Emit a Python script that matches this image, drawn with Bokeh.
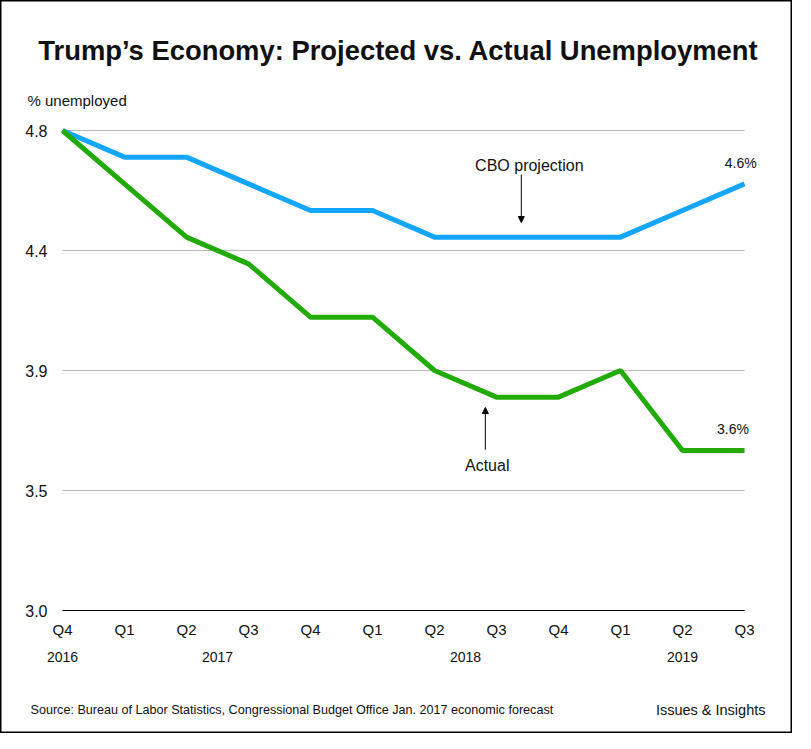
from bokeh.plotting import figure
from bokeh.models import (ColumnDataSource, FixedTicker, LinearAxis, Label, Arrow,
                          NormalHead, Range1d)
from bokeh.embed import file_html
from bokeh.resources import INLINE

# ---- data ----
quarters = ["Q4", "Q1", "Q2", "Q3", "Q4", "Q1", "Q2", "Q3", "Q4", "Q1", "Q2", "Q3"]
quarter_idx = list(range(len(quarters)))
cbo_projection = [4.8, 4.7, 4.7, 4.6, 4.5, 4.5, 4.4, 4.4, 4.4, 4.4, 4.5, 4.6]
actual = [4.8, 4.6, 4.4, 4.3, 4.1, 4.1, 3.9, 3.8, 3.8, 3.9, 3.6, 3.6]
years = ["2016", "2017", "2018", "2019"]
year_pos = [0, 2.5, 6.5, 10]
y_ticks = [3.0, 3.45, 3.9, 4.35, 4.8]
y_tick_labels = ["3.0", "3.5", "3.9", "4.4", "4.8"]

TITLE = "Trump\u2019s Economy: Projected vs. Actual Unemployment"
Y_LABEL = "% unemployed"
SOURCE = "Source: Bureau of Labor Statistics, Congressional Budget Office Jan. 2017 economic forecast"
CREDIT = "Issues & Insights"

FONT = "Liberation Sans"
BLUE = "#14a5fc"
GREEN = "#22ab08"
TXT = "#111111"

# ---- geometry (pixels inside the figure) ----
FIG_W, FIG_H = 792, 733
X0_PX, DX = 62.0, 62.0          # pixel of first quarter, pixels per quarter
Y_TOP_PX, Y_BOT_PX = 130.0, 610.0  # pixel rows of top / bottom tick
y_lo, y_hi = y_ticks[0], y_ticks[-1]
ppu_y = (Y_BOT_PX - Y_TOP_PX) / (y_hi - y_lo)
x_start = -X0_PX / DX
x_end = x_start + FIG_W / DX
y_start = y_lo - (FIG_H - Y_BOT_PX) / ppu_y
y_end = y_lo + Y_BOT_PX / ppu_y

src = ColumnDataSource(dict(x=quarter_idx, cbo=cbo_projection, act=actual))

p = figure(width=FIG_W, height=FIG_H, min_border=0,
           x_range=Range1d(x_start, x_end), y_range=Range1d(y_start, y_end),
           output_backend="svg", toolbar_location=None,
           x_axis_location=None, y_axis_location=None)
p.grid.visible = False
p.background_fill_color = "white"
p.border_fill_color = "white"
p.outline_line_color = "black"
p.outline_line_width = 2

# horizontal grid lines at the y ticks, spanning the quarters
p.segment(x0=[quarter_idx[0]] * len(y_ticks), x1=[quarter_idx[-1]] * len(y_ticks),
          y0=y_ticks, y1=y_ticks, line_color="#b8b8b8", line_width=1)


def style_axis(ax, size, standoff):
    ax.major_tick_line_color = None
    ax.minor_tick_line_color = None
    ax.major_tick_out = 0
    ax.major_tick_in = 0
    ax.minor_tick_out = 0
    ax.major_label_text_font = FONT
    ax.major_label_text_font_size = size
    ax.major_label_text_color = TXT
    ax.major_label_standoff = standoff


yax = LinearAxis(ticker=FixedTicker(ticks=y_ticks), fixed_location=quarter_idx[0],
                 major_label_overrides={t: l for t, l in zip(y_ticks, y_tick_labels)})
style_axis(yax, "16px", 15)
yax.axis_line_color = None
p.add_layout(yax, "left")

xax = LinearAxis(ticker=FixedTicker(ticks=quarter_idx), fixed_location=y_lo,
                 bounds=(quarter_idx[0], quarter_idx[-1]),
                 major_label_overrides={i: q for i, q in zip(quarter_idx, quarters)})
style_axis(xax, "15px", 10)
xax.axis_line_color = "black"
xax.axis_line_width = 1
p.add_layout(xax, "below")

yrax = LinearAxis(ticker=FixedTicker(ticks=year_pos), fixed_location=y_lo,
                  major_label_overrides={pos: y for pos, y in zip(year_pos, years)})
style_axis(yrax, "14px", 41)
yrax.axis_line_color = None
p.add_layout(yrax, "below")

p.line("x", "cbo", source=src, line_color=BLUE, line_width=5)
p.line("x", "act", source=src, line_color=GREEN, line_width=5)


def lab(x, y, text, size, **kw):
    p.add_layout(Label(x=x, y=y, text=text, text_font=FONT, text_font_size=size,
                       text_color=TXT, **kw))


def slab(fx, fy, text, size, **kw):
    """Label placed by figure pixel position measured from the top-left."""
    p.add_layout(Label(x=fx, y=FIG_H - fy, x_units="screen", y_units="screen",
                       text=text, text_font=FONT, text_font_size=size,
                       text_color=TXT, **kw))


# annotations inside the chart
lab(7.53, 4.669, "CBO projection", "16px", text_align="center", text_baseline="middle")
p.add_layout(Arrow(x_start=7.4, y_start=4.635, x_end=7.4, y_end=4.455,
                   line_width=1, line_color="black",
                   end=NormalHead(size=6, line_color="black", fill_color="black")))
lab(6.85, 3.543, "Actual", "16px", text_align="center", text_baseline="middle")
p.add_layout(Arrow(x_start=6.82, y_start=3.603, x_end=6.82, y_end=3.761,
                   line_width=1, line_color="black",
                   end=NormalHead(size=6, line_color="black", fill_color="black")))
lab(quarter_idx[-1] - 0.06, cbo_projection[-1] + 0.08, f"{cbo_projection[-1]:.1f}%", "14px",
    text_align="center", text_baseline="middle")
lab(quarter_idx[-1] - 0.185, actual[-1] + 0.082, f"{actual[-1]:.1f}%", "14px",
    text_align="center", text_baseline="middle")

# titles and footers
slab(398, 50, TITLE, "27.4px", text_font_style="bold", text_align="center",
     text_baseline="middle")
slab(27, 100, Y_LABEL, "15px", text_align="left", text_baseline="middle")
slab(30, 709, SOURCE, "12.6px", text_align="left", text_baseline="middle")
slab(765, 709, CREDIT, "14.5px", text_align="right", text_baseline="middle")

open("out.html", "w").write(file_html(p, INLINE))
